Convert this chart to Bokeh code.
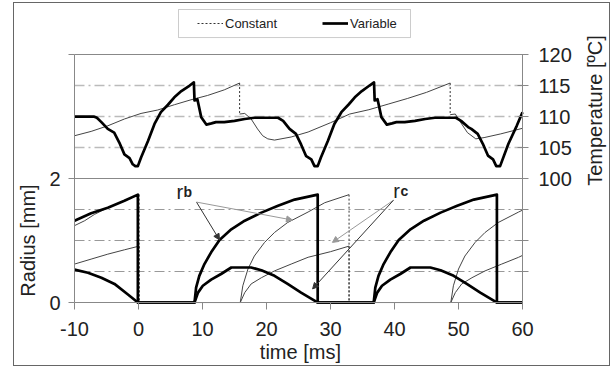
import math
from bokeh.plotting import figure
from bokeh.models import (Range1d, LinearAxis, FixedTicker, Grid, Legend, LegendItem, Label,
                          Arrow, NormalHead, BoxAnnotation)
from bokeh.embed import file_html
from bokeh.resources import INLINE

FONT = "Liberation Sans"

# ---------------- data ----------------
t_T_var = [-10, -7.0, -6.5, -5.8, -4.8, -3.8, -3.0, -2.2, -1.4, -0.9, -0.5, -0.1, 0.4, 1.5,
           2.5, 3.5, 4.6, 5.6, 6.7, 8.0, 8.65, 8.75, 9.2, 9.8, 10.6, 11.4, 12.1, 13.4, 15.0,
           16.6, 18.1, 21.8, 22.6, 23.6, 24.6, 25.4, 26.2, 27.0, 27.5, 28.0, 28.5, 29.6, 30.6,
           31.7, 32.8, 33.8, 34.9, 36.1, 36.8, 36.9, 37.35, 37.95, 38.8, 39.6, 40.3, 41.6,
           43.2, 44.8, 46.3, 49.6, 50.4, 51.5, 52.0, 53.0, 53.8, 54.6, 55.4, 55.9, 56.5,
           57.8, 59.1, 60.0]
T_var = [110.0, 110.0, 109.8, 109.1, 108.0, 107.4, 105.8, 103.9, 103.3, 102.3, 102.0, 102.0,
         103.4, 106.1, 108.8, 110.7, 111.9, 113.1, 114.1, 115.0, 115.5, 112.6, 112.8, 109.9,
         108.7, 108.9, 109.1, 109.1, 109.3, 109.6, 109.8, 109.8, 109.3, 108.0, 107.2, 105.5,
         103.6, 103.1, 102.0, 102.0, 103.4, 106.1, 108.8, 110.7, 111.9, 113.1, 114.1, 115.0,
         115.5, 112.6, 112.8, 109.9, 108.7, 108.9, 109.1, 109.1, 109.3, 109.6, 109.8, 109.8,
         109.3, 108.3, 108.0, 107.2, 105.6, 103.7, 103.1, 102.0, 102.0, 105.6, 108.5, 110.7]

t_T_const = [-10, -7.4, -4.8, -2.2, 0.4, 3.0, 5.6, 8.2, 10.8, 13.4, 15.8, 15.8, 16.6, 17.6,
             18.6, 19.4, 20.2, 21.25, 23.85, 26.5, 30.0, 33.0, 36.0, 39.0, 42.0, 45.0, 48.7,
             48.7, 49.5, 50.3, 51.4, 52.7, 54.0, 56.6, 60.0]
T_const = [106.9, 107.6, 108.5, 109.6, 110.5, 111.05, 111.9, 112.7, 113.4, 114.3, 115.4,
           110.4, 110.5, 109.6, 108.0, 106.9, 106.4, 106.2, 106.7, 107.5, 109.0, 110.4, 111.1,
           112.0, 112.9, 113.9, 115.4, 110.3, 110.4, 109.1, 107.4, 106.4, 106.6, 107.2, 108.1]

t_rb_var = [-10, -7.4, -4.8, -2.2, -0.1, -0.1, 8.75, 9.0, 9.5, 10.3, 11.35, 12.66, 14.5, 16.6,
            19.2, 21.8, 24.4, 28.0, 28.0, 36.75, 37.0, 37.5, 38.3, 39.35, 40.66, 42.5, 44.6,
            47.2, 49.8, 52.4, 56.0, 56.0, 60.0]
rb_var = [1.32, 1.44, 1.53, 1.64, 1.74, 0.0, 0.0, 0.24, 0.43, 0.62, 0.81, 1.01, 1.18, 1.32,
          1.45, 1.56, 1.66, 1.74, 0.0, 0.0, 0.24, 0.43, 0.62, 0.81, 1.01, 1.18, 1.32, 1.45,
          1.56, 1.66, 1.74, 0.0, 0.0]

t_rc_var = [-10, -7.9, -5.8, -3.75, -1.7, -0.1, 8.75, 9.3, 10.05, 11.35, 12.9, 14.5, 17.6,
            19.2, 21.25, 23.3, 25.4, 27.5, 28.0, 36.75, 37.3, 38.05, 39.35, 40.9, 42.5, 45.6,
            47.2, 49.25, 51.3, 53.4, 55.5, 56.0, 60.0]
rc_var = [0.53, 0.48, 0.40, 0.30, 0.134, 0.0, 0.0, 0.16, 0.27, 0.37, 0.46, 0.565, 0.565, 0.52,
          0.43, 0.30, 0.16, 0.03, 0.0, 0.0, 0.16, 0.27, 0.37, 0.46, 0.565, 0.565, 0.52, 0.43,
          0.30, 0.16, 0.03, 0.0, 0.0]

t_rb_const = [-10, -8.4, -6.9, -4.8, -2.2, 0.1, 0.1, 15.9, 16.3, 17.1, 18.1, 19.7, 21.25,
              23.3, 26.5, 29.1, 32.9, 32.9, 48.8, 49.2, 50.0, 51.0, 52.6, 54.15, 56.2, 59.4,
              60.0]
rb_const = [1.24, 1.32, 1.42, 1.53, 1.64, 1.74, 0.0, 0.0, 0.27, 0.54, 0.75, 0.97, 1.13, 1.29,
            1.46, 1.61, 1.74, 0.0, 0.0, 0.27, 0.54, 0.75, 0.97, 1.13, 1.29, 1.46, 1.49]

t_rc_const = [-10, -7.4, -4.8, -2.2, 0.1, 0.1, 15.9, 16.6, 17.6, 19.2, 21.25, 23.85, 26.5,
              30.0, 32.9, 32.9, 48.8, 49.5, 50.5, 52.1, 54.15, 56.75, 59.4, 60.0]
rc_const = [0.62, 0.70, 0.78, 0.85, 0.91, 0.0, 0.0, 0.16, 0.30, 0.40, 0.51, 0.62, 0.73, 0.82,
            0.91, 0.0, 0.0, 0.16, 0.30, 0.40, 0.51, 0.62, 0.73, 0.76]

# axes / ticks
time_span = (-10, 60)
radius_span = (0, 4)
temp_span = (80, 120)
time_ticks = [-10, 0, 10, 20, 30, 40, 50, 60]
time_labels = {t: str(t) for t in time_ticks}
radius_ticks = [0, 2, 4]
radius_labels = {0: "0", 2: "2", 4: ""}
temp_ticks = [85, 90, 95, 100, 105, 110, 115, 120]
temp_labels = {85: "", 90: "", 95: "", 100: "100", 105: "105", 110: "110", 115: "115",
               120: "120"}
radius_grid = [0.5, 1.0, 1.5]
temp_grid = [105, 110, 115]
panel_lines = [2, 4]

# annotation arrows (start x, start y, end x, end y, colour) in time / radius units
arrows = [
    (9.06, 1.62, 12.66, 1.01, "#333333"),
    (9.06, 1.62, 24.06, 1.33, "#999999"),
    (39.84, 1.65, 30.3, 0.97, "#999999"),
    (39.84, 1.65, 27.2, 0.22, "#333333"),
]


def split_jumps(ts, vs):
    """Split into continuous pieces and vertical jumps (equal successive times)."""
    sx, sy, jx, jy = [], [], [], []
    cx, cy = [ts[0]], [vs[0]]
    for i in range(1, len(ts)):
        if ts[i] == ts[i - 1]:
            sx.append(cx); sy.append(cy)
            jx.append([ts[i - 1], ts[i]]); jy.append([vs[i - 1], vs[i]])
            cx, cy = [ts[i]], [vs[i]]
        else:
            cx.append(ts[i]); cy.append(vs[i])
    sx.append(cx); sy.append(cy)
    return sx, sy, jx, jy


# the frame covers the whole canvas; axes sit at fixed data locations inside it
p = figure(width=597, height=364, x_range=Range1d(-19.375, 73.906),
           y_range=Range1d(-1.048, 4.823), output_backend="svg", toolbar_location=None,
           min_border=0, background_fill_color="white", border_fill_color="white")
p.margin = (2, 0, 0, 13)
p.styles = {"border": "1px solid #666666"}
p.extra_y_ranges = {"temp": Range1d(69.52, 128.23)}
p.outline_line_color = None

AX = "#888888"
TXT = "#222222"


def style_axis(ax, tick_in, tick_out, standoff):
    ax.axis_line_color = AX
    ax.major_tick_line_color = AX
    ax.major_tick_in = tick_in
    ax.major_tick_out = tick_out
    ax.minor_tick_line_color = None
    ax.major_label_standoff = standoff
    ax.major_label_text_font = FONT
    ax.major_label_text_font_size = "20px"
    ax.major_label_text_color = TXT


xa = p.xaxis[0]
xa.ticker = FixedTicker(ticks=time_ticks)
xa.major_label_overrides = time_labels
xa.bounds = time_span
xa.fixed_location = radius_span[0]
style_axis(xa, 0, 7, 12)

ya = p.yaxis[0]
ya.ticker = FixedTicker(ticks=radius_ticks)
ya.major_label_overrides = radius_labels
ya.bounds = radius_span
ya.fixed_location = time_span[0]
style_axis(ya, 0, 6, 8)

ra = LinearAxis(y_range_name="temp", ticker=FixedTicker(ticks=temp_ticks),
                major_label_overrides=temp_labels, bounds=temp_span,
                fixed_location=time_span[1])
style_axis(ra, 5, 6, 10)
p.add_layout(ra, "right")

# grids
p.xgrid.visible = False
p.ygrid.visible = False
has_cross = "cross_bounds" in Grid.properties()


def hgrid(ticks, color, dash, width, rng=None):
    kw = dict(dimension=1, ticker=FixedTicker(ticks=ticks), grid_line_color=color,
              grid_line_dash=dash, grid_line_width=width)
    if rng:
        kw["y_range_name"] = rng
    if has_cross:
        kw["cross_bounds"] = time_span
    p.add_layout(Grid(**kw))


hgrid(radius_grid, "#999999", "10 4 2 4", 1)
hgrid(temp_grid, "#bbbbbb", "10 4 2 4", 1.5, "temp")
hgrid(panel_lines, AX, "solid", 1)

# constant case (thin + dotted jumps)
THIN = "#444444"
sx, sy, jx, jy = split_jumps(t_T_const, T_const)
p.multi_line(sx, sy, line_color=THIN, line_width=1, y_range_name="temp")
r_const = p.multi_line(jx, jy, line_color="#333333", line_width=1, line_dash="2 2",
                       y_range_name="temp")
for ts, vs in ((t_rb_const, rb_const), (t_rc_const, rc_const)):
    sx, sy, jx, jy = split_jumps(ts, vs)
    p.multi_line(sx, sy, line_color=THIN, line_width=1)
    p.multi_line(jx, jy, line_color="#333333", line_width=1, line_dash="2 2")

# variable case (thick)
r_var = p.line(t_T_var, T_var, line_color="black", line_width=2.7, y_range_name="temp",
               line_join="round")
p.line(t_rb_var, rb_var, line_color="black", line_width=2.7, line_join="round")
p.line(t_rc_var, rc_var, line_color="black", line_width=2.7, line_join="round")

# arrows
for x0, y0, x1, y1, c in arrows:
    p.add_layout(Arrow(end=NormalHead(size=6, fill_color=c, line_color=c),
                       x_start=x0, y_start=y0, x_end=x1, y_end=y1,
                       line_color=c, line_width=1))

# r_b / r_c labels
for xt, yt, txt, size, style in ((5.94, 1.79, "r", "20px", "normal"),
                                  (7.03, 1.79, "b", "14px", "bold"),
                                  (39.8, 1.80, "r", "20px", "normal"),
                                  (40.94, 1.80, "c", "14px", "bold")):
    p.add_layout(Label(x=xt, y=yt, text=txt, text_font=FONT, text_font_size=size,
                       text_font_style=style, text_color=TXT, text_baseline="alphabetic",
                       text_align="left"))

# axis titles
p.add_layout(Label(x=-17.2, y=1.0, text="Radius [mm]", angle=math.pi / 2,
                   text_align="center", text_baseline="middle", text_font=FONT,
                   text_font_size="20px", text_color=TXT))
p.add_layout(Label(x=71.25, y=110.97, y_range_name="temp", text="Temperature [ºC]",
                   angle=math.pi / 2, text_align="center", text_baseline="middle",
                   text_font=FONT, text_font_size="20px", text_color=TXT))
p.add_layout(Label(x=25.3, y=-0.79, text="time [ms]", text_align="center",
                   text_baseline="alphabetic", text_font=FONT, text_font_size="20px",
                   text_color=TXT))

# legend box + items
p.add_layout(BoxAnnotation(left=6.25, right=42.5, bottom=4.274, top=4.726,
                           fill_color="white", fill_alpha=1, line_color="#555555",
                           line_width=1))
legend = Legend(items=[LegendItem(label="Constant", renderers=[r_const]),
                       LegendItem(label="Variable", renderers=[r_var])],
                orientation="horizontal", location=(183, 336), margin=0, padding=0,
                spacing=45, glyph_width=26, glyph_height=16, label_standoff=2,
                label_text_font=FONT, label_text_font_size="13px", label_text_color=TXT,
                border_line_color=None, background_fill_alpha=0)
p.add_layout(legend)

open("out.html", "w").write(file_html(p, INLINE))
